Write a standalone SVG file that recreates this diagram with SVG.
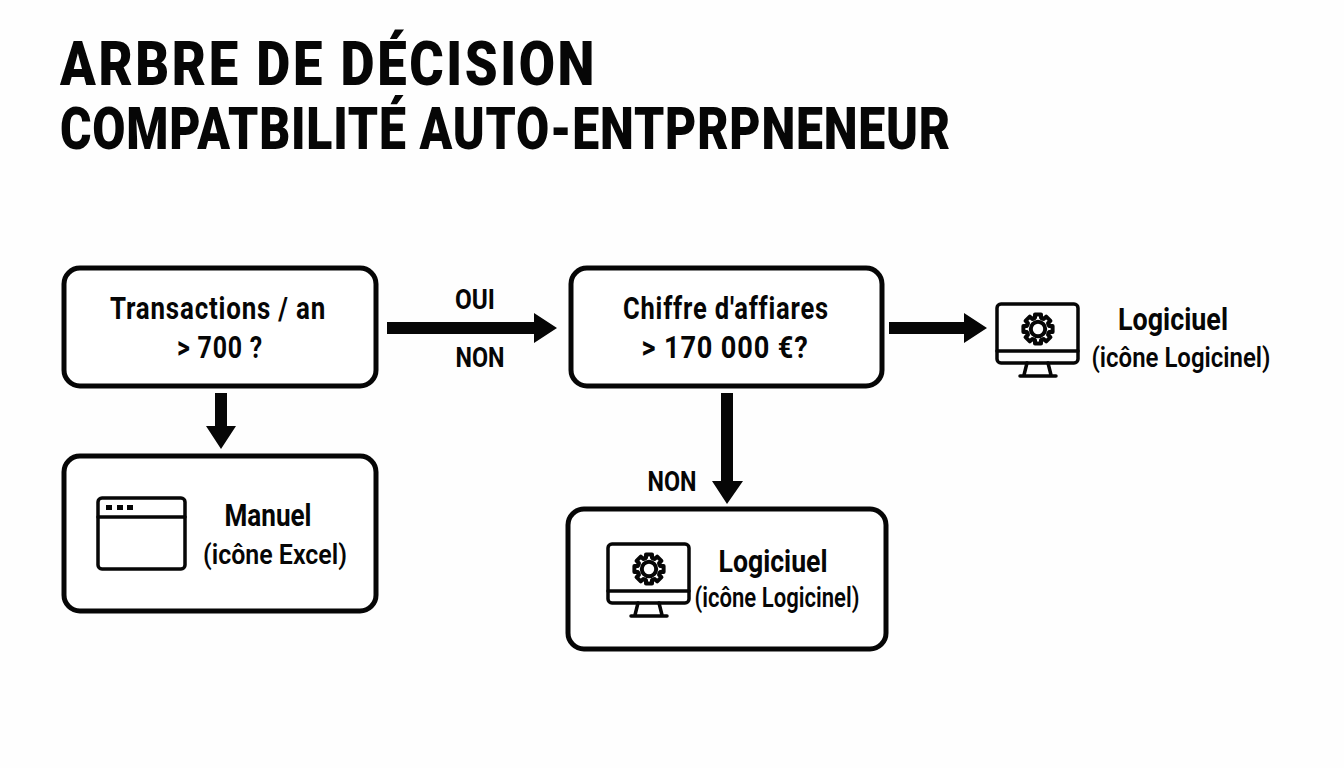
<svg xmlns="http://www.w3.org/2000/svg" width="1344" height="768" viewBox="0 0 1344 768">
<style>
text{font-family:Roboto,"Liberation Sans",sans-serif;fill:#060606;text-anchor:middle}
.t{font-weight:900;text-anchor:start}
.b{font-weight:700;font-size:32px}
.s{font-weight:600;font-size:28px}
.l{font-weight:700;font-size:28px}
.box{fill:#fff;stroke:#060606;stroke-width:5}
.ic{fill:none;stroke:#060606;stroke-width:3.5;stroke-linejoin:round;stroke-linecap:round}
.ar{fill:#060606;stroke:none}
</style>
<defs>
<path id="tooth" class="ic" style="stroke-width:4" d="M-4.4-10.6L-3-11.2V-14.6H3V-11.2L4.4-10.6"/>
<g id="mon">
<rect class="ic" x="-41" y="-34" width="81" height="59" rx="4"/>
<path class="ic" d="M-41 13H40M-11 25L-14 37M10 25L13 37M-18 38H18"/>
<g transform="translate(0,-9)">
<circle cx="0" cy="0" r="7.2" fill="none" stroke="#060606" stroke-width="4"/>
<use href="#tooth"/>
<use href="#tooth" transform="rotate(45)"/>
<use href="#tooth" transform="rotate(90)"/>
<use href="#tooth" transform="rotate(135)"/>
<use href="#tooth" transform="rotate(180)"/>
<use href="#tooth" transform="rotate(225)"/>
<use href="#tooth" transform="rotate(270)"/>
<use href="#tooth" transform="rotate(315)"/>
</g>
</g>
</defs>
<rect width="1344" height="768" fill="#fefefe"/>
<g id="title">
<text class="t" x="60" y="85" font-size="61" letter-spacing="3" textLength="537" lengthAdjust="spacingAndGlyphs">ARBRE DE DÉCISION</text>
<text class="t" x="60" y="149" font-size="60" letter-spacing="1" textLength="891" lengthAdjust="spacingAndGlyphs">COMPATBILITÉ AUTO-ENTPRPNENEUR</text>
</g>
<g id="connectors">
<path class="ar" d="M387 322H534V313L557 328L534 343V334H387Z"/>
<path class="ar" d="M889 322H964V313L987 328L964 343V334H889Z"/>
<path class="ar" d="M215 393H227V426H236L221 449L206 426H215Z"/>
<path class="ar" d="M721 393H733V481H743L727 504L712 481H721Z"/>
<text class="l" x="475" y="309" textLength="40" lengthAdjust="spacingAndGlyphs">OUI</text>
<text class="l" x="480" y="367" textLength="49" lengthAdjust="spacingAndGlyphs">NON</text>
<text class="l" x="672" y="491" textLength="49" lengthAdjust="spacingAndGlyphs">NON</text>
</g>
<g id="n1">
<rect class="box" x="64" y="268" width="312" height="118" rx="16"/>
<text class="b" x="218" y="319" letter-spacing="1" textLength="216" lengthAdjust="spacingAndGlyphs">Transactions / an</text>
<text class="b" x="220" y="358" letter-spacing="1" textLength="86" lengthAdjust="spacingAndGlyphs">&gt; 700 ?</text>
</g>
<g id="n2">
<rect class="box" x="571" y="268" width="311" height="118" rx="16"/>
<text class="b" x="726" y="319" letter-spacing="1" textLength="206" lengthAdjust="spacingAndGlyphs">Chiffre d'affiares</text>
<text class="b" x="725" y="358" letter-spacing="1" textLength="167" lengthAdjust="spacingAndGlyphs">&gt; 170 000 €?</text>
</g>
<g id="n3">
<use href="#mon" x="1038" y="338"/>
<text class="b" x="1173" y="330" textLength="110" lengthAdjust="spacingAndGlyphs">Logiciuel</text>
<text class="s" x="1181" y="367" textLength="179" lengthAdjust="spacingAndGlyphs">(icône Logicinel)</text>
</g>
<g id="n4">
<rect class="box" x="64" y="456" width="312" height="155" rx="16"/>
<rect class="ic" x="98" y="498" width="87" height="71" rx="4"/>
<path class="ic" d="M98 517H185"/>
<path d="M106 505h6v5h-6zM117 505h6v5h-6zM127 505h6v5h-6z" fill="#060606"/>
<text class="b" x="268" y="526" textLength="87" lengthAdjust="spacingAndGlyphs">Manuel</text>
<text class="s" x="275" y="564" textLength="144" lengthAdjust="spacingAndGlyphs">(icône Excel)</text>
</g>
<g id="n5">
<rect class="box" x="568" y="509" width="318" height="140" rx="16"/>
<use href="#mon" x="649" y="578"/>
<text class="b" x="773" y="572" textLength="109" lengthAdjust="spacingAndGlyphs">Logiciuel</text>
<text class="s" x="777" y="607" textLength="165" lengthAdjust="spacingAndGlyphs">(icône Logicinel)</text>
</g>
</svg>
